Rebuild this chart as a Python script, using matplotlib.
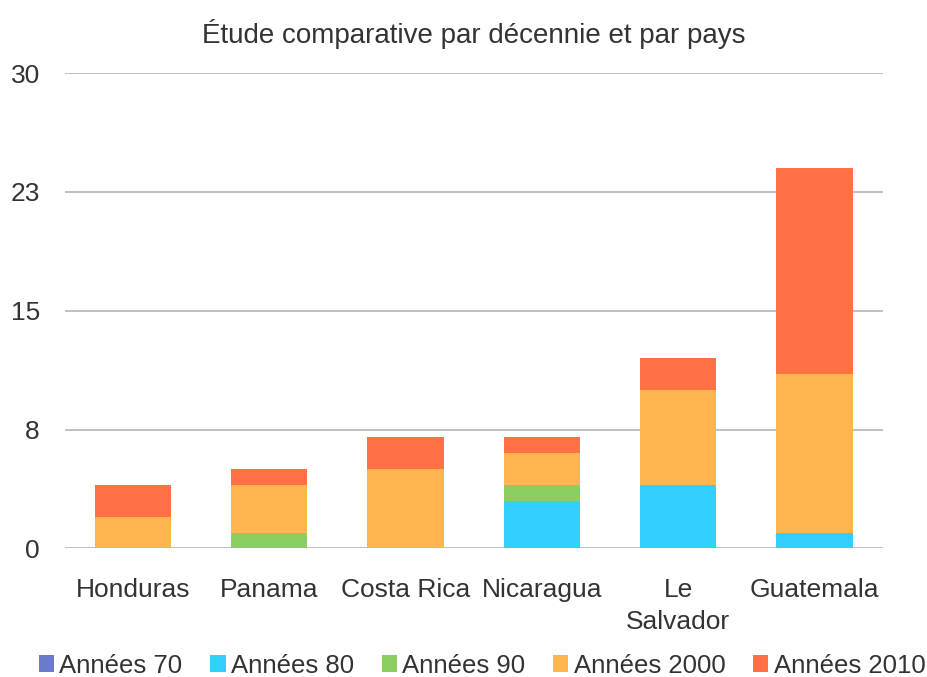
import numpy as np
import matplotlib
matplotlib.use("Agg")
from matplotlib import pyplot as plt

plt.rcParams['font.family'] = ['Liberation Sans', 'DejaVu Sans']

countries = ["Honduras", "Panama", "Costa Rica", "Nicaragua", "Le\nSalvador", "Guatemala"]
series_names = ["Années 70", "Années 80", "Années 90", "Années 2000", "Années 2010"]
annees_70 = [0, 0, 0, 0, 0, 0]
annees_80 = [0, 0, 0, 3, 4, 1]
annees_90 = [0, 1, 0, 1, 0, 0]
annees_2000 = [2, 3, 5, 2, 6, 10]
annees_2010 = [2, 1, 2, 1, 2, 13]
colors = ["#6b7bcc", "#33cfff", "#8bcf60", "#ffb650", "#ff7045"]

yticks = [0, 7.5, 15, 22.5, 30]
ytick_labels = ["0", "8", "15", "23", "30"]

fig = plt.figure(figsize=(9.27, 6.77), dpi=100)
ax = fig.add_axes([0.070, 0.19, 0.882, 0.702])

x = np.arange(len(countries))
bottom = np.zeros(len(countries))
for name, vals, c in zip(series_names, [annees_70, annees_80, annees_90, annees_2000, annees_2010], colors):
    ax.bar(x, vals, 0.56, bottom=bottom, color=c, label=name, zorder=3)
    bottom += np.array(vals)

ax.set_xlim(-0.5, len(countries) - 0.5)
ax.set_ylim(0, 30)
ax.set_yticks(yticks)
ax.set_yticklabels(ytick_labels)
ax.set_xticks(x)
ax.set_xticklabels(countries, linespacing=1.45, va="top")
ax.tick_params(axis="both", length=0, labelsize=19, labelcolor="#333333")
ax.tick_params(axis="x", pad=21)
ax.tick_params(axis="y", pad=18)
ax.grid(axis="y", color="#bbbbbb", linewidth=1.3, zorder=0)
for s in ax.spines.values():
    s.set_visible(False)

ax.set_title("Étude comparative par décennie et par pays", fontsize=20, color="#333333", pad=22)

fig.legend(loc="lower center", bbox_to_anchor=(0.52, -0.035), ncol=5, frameon=False,
           fontsize=18.5, handlelength=0.6, handleheight=0.6, handletextpad=0.2,
           columnspacing=1.08, labelcolor="#333333")

plt.savefig("out.png", dpi=100)
